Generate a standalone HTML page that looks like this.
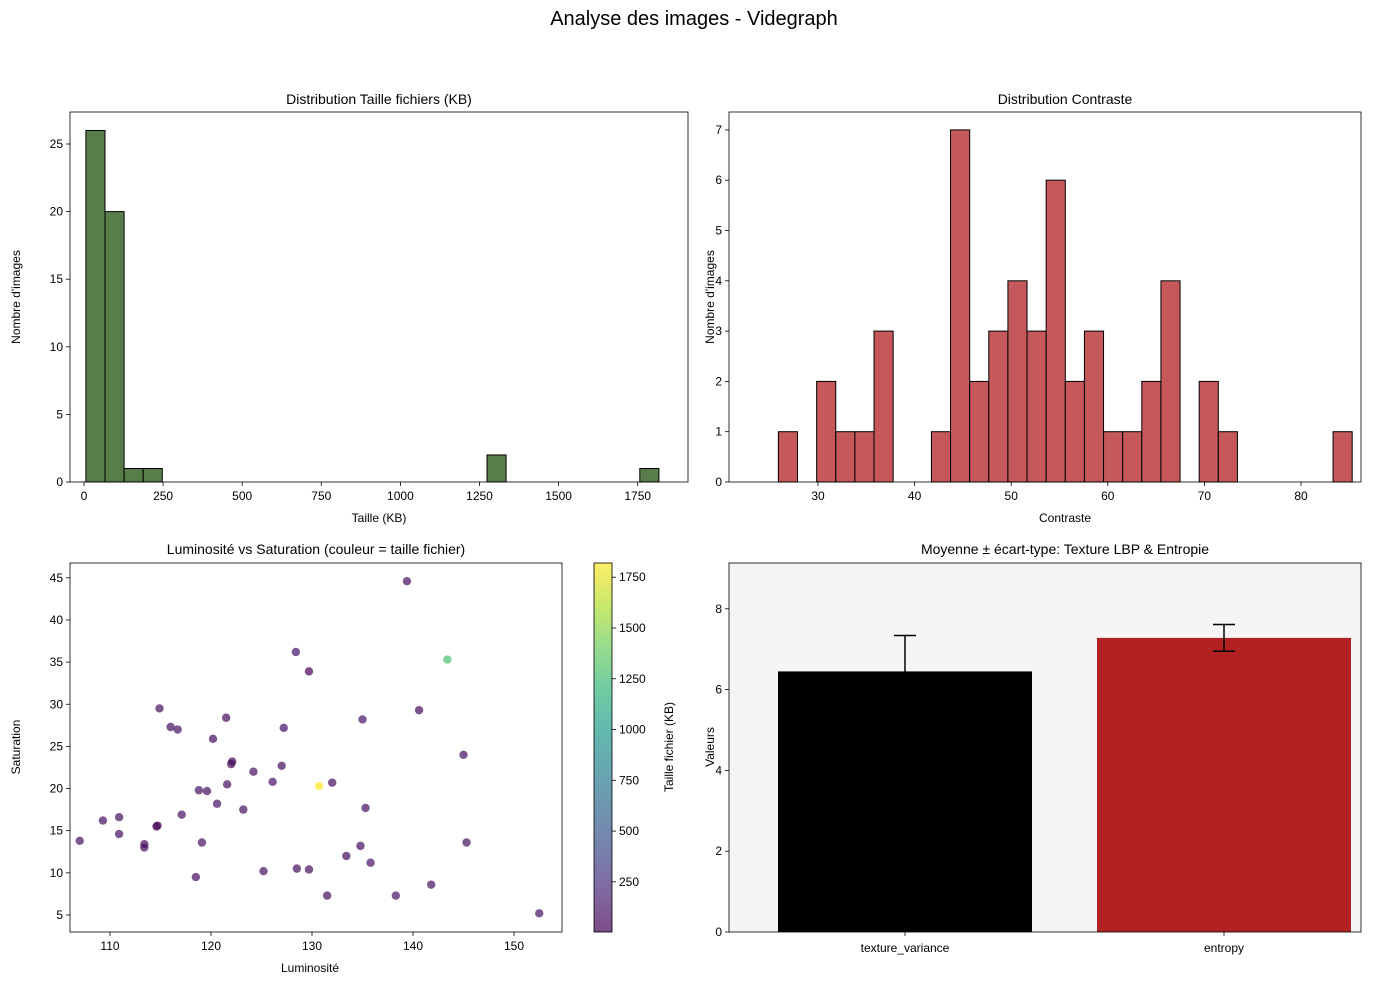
<!DOCTYPE html>
<html><head><meta charset="utf-8">
<style>
body{margin:0;background:#fff;}
svg{display:block;font-family:"Liberation Sans","DejaVu Sans",sans-serif;}
</style></head>
<body>
<svg id="c" width="1389" height="985" viewBox="0 0 1389 985"></svg>
<script>
// ---- data ----
const sizeCounts=[26,20,1,1,0,0,0,0,0,0,0,0,0,0,0,0,0,0,0,0,0,2,0,0,0,0,0,0,0,1];
const sizeMin=6, sizeMax=1817;
const sizeTicks=[0,250,500,750,1000,1250,1500,1750];
const sizeYTicks=[0,5,10,15,20,25];
const contrastCounts=[1,0,2,1,1,3,0,0,1,7,2,3,4,3,6,2,3,1,1,2,4,0,2,1,0,0,0,0,0,1];
const contrastMin=25.9, contrastMax=85.3;
const contrastTicks=[30,40,50,60,70,80];
const contrastYTicks=[0,1,2,3,4,5,6,7];
const lum=[139.4,128.4,129.7,143.4,114.9,121.5,140.6,135.0,116.0,116.7,127.2,120.2,145.0,122.1,122.0,127.0,124.2,126.1,132.0,130.7,121.6,118.8,119.6,120.6,135.3,123.2,117.1,110.9,109.3,114.7,114.6,110.9,119.1,145.3,134.8,107.0,113.4,113.4,133.4,135.8,128.5,129.7,125.2,118.5,141.8,131.5,138.3,152.5];
const sat=[44.6,36.2,33.9,35.3,29.5,28.4,29.3,28.2,27.3,27.0,27.2,25.9,24.0,23.2,22.9,22.7,22.0,20.8,20.7,20.3,20.5,19.8,19.7,18.2,17.7,17.5,16.9,16.6,16.2,15.6,15.5,14.6,13.6,13.6,13.2,13.8,13.4,13.0,12.0,11.2,10.5,10.4,10.2,9.5,8.6,7.3,7.3,5.2];
const fsize=[60,80,10,1300,70,60,60,80,60,70,80,60,70,10,60,70,60,80,60,1817,60,70,60,80,60,70,60,70,60,10,60,70,60,70,60,80,60,70,60,80,60,70,80,60,70,60,80,70];
const lumTicks=[110,120,130,140,150];
const satTicks=[5,10,15,20,25,30,35,40,45];
const cbTicks=[250,500,750,1000,1250,1500,1750];
const barCats=["texture_variance","entropy"];
const barMeans=[6.45,7.28];
const barStds=[0.89,0.33];
const barYTicks=[0,2,4,6,8];

const svg=document.getElementById('c');
const NS='http://www.w3.org/2000/svg';
function el(tag,attrs,parent,name,inter){const e=document.createElementNS(NS,tag);for(const k in attrs)e.setAttribute(k,attrs[k]);


(parent||svg).appendChild(e);return e;}
function txt(x,y,s,size,anchor,name,extra){const t=el('text',Object.assign({x:x,y:y,'font-size':size,'text-anchor':anchor||'middle',fill:'#000'},extra||{}),svg,name,false);t.textContent=s;return t;}

txt(694,25,"Analyse des images - Videgraph",20,'middle','figure-title');

function axesFrame(x0,y0,x1,y1,name,bg){el('rect',{x:x0,y:y0,width:x1-x0,height:y1-y0,fill:bg||'#fff',stroke:'none'},svg,name+'-background',false);}
function frameBorder(x0,y0,x1,y1,name){el('rect',{x:x0,y:y0,width:x1-x0,height:y1-y0,fill:'none',stroke:'#000','stroke-width':0.8},svg,name+'-frame',false);}
function xTicks(ticks,fx,y,name){ticks.forEach(v=>{const x=fx(v);el('line',{x1:x,x2:x,y1:y,y2:y+4,stroke:'#000','stroke-width':0.8},svg,name+'-tick',false);txt(x,y+18,String(v),12,'middle',name+'-tick-label');});}
function yTicks(ticks,fy,x,name){ticks.forEach(v=>{const y=fy(v);el('line',{x1:x-4,x2:x,y1:y,y2:y,stroke:'#000','stroke-width':0.8},svg,name+'-tick',false);txt(x-7,y+4,String(v),12,'end',name+'-tick-label');});}

// Panel 1
(function(){const x0=70,x1=688,y0=112,y1=482;
const fx=v=>84+v*0.3164, fy=v=>482-v*13.52;
axesFrame(x0,y0,x1,y1,'size-hist');
const w=(sizeMax-sizeMin)/sizeCounts.length;
sizeCounts.forEach((c,i)=>{if(c>0)el('rect',{x:fx(sizeMin+i*w),y:fy(c),width:fx(sizeMin+(i+1)*w)-fx(sizeMin+i*w),height:fy(0)-fy(c),fill:'#587c4a',stroke:'#000','stroke-width':1},svg,'size-bar',false);});
frameBorder(x0,y0,x1,y1,'size-hist');
xTicks(sizeTicks,fx,y1,'size-x');yTicks(sizeYTicks,fy,x0,'size-y');
txt(379,104,"Distribution Taille fichiers (KB)",14,'middle','size-hist-title');
txt(379,522,"Taille (KB)",12,'middle','size-x-title');
txt(20,297,"Nombre d'images",12,'middle','size-y-title',{transform:'rotate(-90 20 297)'});
})();

// Panel 2
(function(){const x0=729,x1=1361,y0=112,y1=482;
const fx=v=>818+(v-30)*9.66, fy=v=>482-v*50.3;
axesFrame(x0,y0,x1,y1,'contrast-hist');
const w=(contrastMax-contrastMin)/contrastCounts.length;
contrastCounts.forEach((c,i)=>{if(c>0)el('rect',{x:fx(contrastMin+i*w),y:fy(c),width:fx(contrastMin+(i+1)*w)-fx(contrastMin+i*w),height:fy(0)-fy(c),fill:'#c4585a',stroke:'#000','stroke-width':1},svg,'contrast-bar',false);});
frameBorder(x0,y0,x1,y1,'contrast-hist');
xTicks(contrastTicks,fx,y1,'contrast-x');yTicks(contrastYTicks,fy,x0,'contrast-y');
txt(1065,104,"Distribution Contraste",14,'middle','contrast-hist-title');
txt(1065,522,"Contraste",12,'middle','contrast-x-title');
txt(714,297,"Nombre d'images",12,'middle','contrast-y-title',{transform:'rotate(-90 714 297)'});
})();

// viridis
const vir=[[68,1,84],[72,40,120],[62,74,137],[49,104,142],[38,130,142],[31,158,137],[53,183,121],[109,205,89],[180,222,44],[253,231,37]];
function viridis(t){t=Math.max(0,Math.min(1,t));const p=t*(vir.length-1);const i=Math.min(Math.floor(p),vir.length-2);const f=p-i;const a=vir[i],b=vir[i+1];return 'rgb('+a.map((v,k)=>Math.round(v+(b[k]-v)*f)).join(',')+')';}
const cmin=3,cmax=1820;

// Panel 3
(function(){const x0=70,x1=562,y0=563,y1=932;
const fx=v=>110+(v-110)*10.1, fy=v=>915-(v-5)*8.43;
axesFrame(x0,y0,x1,y1,'scatter');
lum.forEach((l,i)=>{el('circle',{cx:fx(l),cy:fy(sat[i]),r:4.2,fill:viridis((fsize[i]-cmin)/(cmax-cmin)),'fill-opacity':0.7},svg,'scatter-point',false);});
frameBorder(x0,y0,x1,y1,'scatter');
xTicks(lumTicks,fx,y1,'scatter-x');yTicks(satTicks,fy,x0,'scatter-y');
txt(316,554,"Luminosité vs Saturation (couleur = taille fichier)",14,'middle','scatter-title');
txt(310,972,"Luminosité",12,'middle','scatter-x-title');
txt(20,747,"Saturation",12,'middle','scatter-y-title',{transform:'rotate(-90 20 747)'});
// colorbar
const cx0=594,cx1=612;const defs=el('defs',{},svg,'defs',false);
const g=el('linearGradient',{id:'vg',x1:0,y1:1,x2:0,y2:0},defs,'colorbar-gradient',false);
vir.forEach((c,i)=>{el('stop',{offset:(i/(vir.length-1)),'stop-color':'rgb('+c.join(',')+')','stop-opacity':0.7},g,'gradient-stop',false);});
el('rect',{x:cx0,y:y0,width:cx1-cx0,height:y1-y0,fill:'url(#vg)',stroke:'#000','stroke-width':0.8},svg,'colorbar',false);
const fc=v=>y1-(v-cmin)/(cmax-cmin)*(y1-y0);
cbTicks.forEach(v=>{const y=fc(v);el('line',{x1:cx1,x2:cx1+4,y1:y,y2:y,stroke:'#000','stroke-width':0.8},svg,'colorbar-tick',false);txt(cx1+7,y+4,String(v),12,'start','colorbar-tick-label');});
txt(673,747,"Taille fichier (KB)",12,'middle','colorbar-title',{transform:'rotate(-90 673 747)'});
})();

// Panel 4
(function(){const x0=729,x1=1361,y0=563,y1=932;
const fy=v=>932-v*40.4;
axesFrame(x0,y0,x1,y1,'bar-chart','#f5f5f5');
const centers=[905,1224],bw=254,cols=['#000000','#b22222'];
barCats.forEach((c,i)=>{const cx=centers[i];
el('rect',{x:cx-bw/2,y:fy(barMeans[i]),width:bw,height:fy(0)-fy(barMeans[i]),fill:cols[i]},svg,'bar-'+c,false);
const top=fy(barMeans[i]+barStds[i]),bot=fy(barMeans[i]-barStds[i]);
el('line',{x1:cx,x2:cx,y1:top,y2:bot,stroke:'#000','stroke-width':1.5},svg,'errorbar-'+c,false);
el('line',{x1:cx-11,x2:cx+11,y1:top,y2:top,stroke:'#000','stroke-width':1.5},svg,'errorcap-top-'+c,false);
el('line',{x1:cx-11,x2:cx+11,y1:bot,y2:bot,stroke:'#000','stroke-width':1.5},svg,'errorcap-bottom-'+c,false);
el('line',{x1:cx,x2:cx,y1:y1,y2:y1+4,stroke:'#000','stroke-width':0.8},svg,'bar-x-tick',false);
txt(cx,y1+20,c,12,'middle','bar-x-tick-label');});
frameBorder(x0,y0,x1,y1,'bar-chart');
yTicks(barYTicks,fy,x0,'bar-y');
txt(1065,554,"Moyenne ± écart-type: Texture LBP & Entropie",14,'middle','bar-chart-title');
txt(714,747,"Valeurs",12,'middle','bar-y-title',{transform:'rotate(-90 714 747)'});
})();
</script>
</body></html>
